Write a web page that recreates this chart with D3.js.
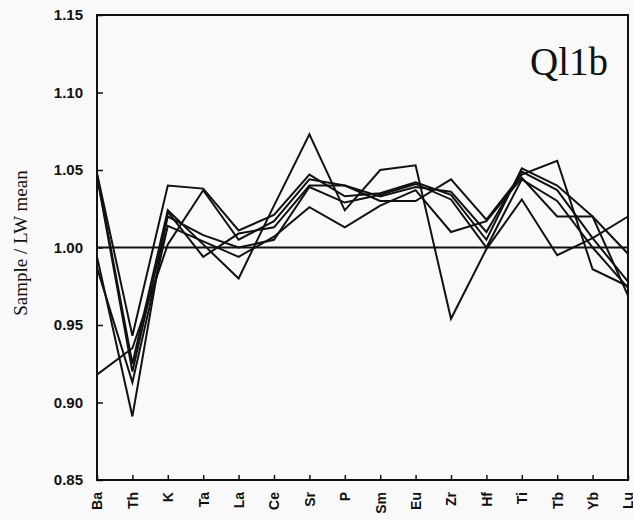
<!DOCTYPE html>
<html>
<head>
<meta charset="utf-8">
<script src="https://cdn.jsdelivr.net/npm/d3@7"></script>
<style>
  body{margin:0;background:#f9f9f9;}
  svg{display:block;}
</style>
</head>
<body>
<div id="svg-container"></div>
<script>

let elements = ["Ba","Th","K","Ta","La","Ce","Sr","P","Sm","Eu","Zr","Hf","Ti","Tb","Yb","Lu"];

//one array per sample
let sample1 = [1.048,0.943,1.040,1.038,1.011,1.021,1.047,1.033,1.035,1.042,1.034,1.005,1.051,1.040,1.020,0.996];
let sample2 = [0.918,0.935,1.002,1.037,1.005,1.017,1.044,1.040,1.033,1.039,1.036,1.010,1.049,1.037,1.006,0.978];
let sample3 = [1.047,0.925,1.024,1.002,0.980,1.027,1.073,1.024,1.050,1.053,0.954,0.999,1.031,0.995,1.006,1.020];
let sample4 = [0.994,0.891,1.023,0.994,1.009,1.013,1.040,1.040,1.030,1.030,1.044,1.018,1.047,1.056,0.986,0.975];
let sample5 = [0.987,0.913,1.014,1.004,0.994,1.007,1.026,1.013,1.027,1.037,1.010,1.017,1.045,1.020,1.020,0.969];
let sample6 = [1.046,0.920,1.020,1.008,1.000,1.005,1.039,1.029,1.034,1.041,1.031,1.000,1.044,1.030,1.000,0.974];

let yTicks = [0.85,0.90,0.95,1.00,1.05,1.10,1.15];
let refValue = 1.00;
let panelLabel = "Ql1b";

let samples = [sample1,sample2,sample3,sample4,sample5,sample6];

let dims = {w:633, h:520};
let box = {left:97, right:628, top:15, bottom:480};

let svg = d3.select("#svg-container").append("svg:svg")
  .attr("width", dims.w).attr("height", dims.h);

let x = d3.scalePoint().domain(elements).range([box.left, box.right]);
let y = d3.scaleLinear().domain([0.85,1.15]).range([box.bottom, box.top]);

// frame
svg.append("rect")
  .attr("x", box.left).attr("y", box.top)
  .attr("width", box.right-box.left).attr("height", box.bottom-box.top)
  .attr("fill","none").attr("stroke","#111").attr("stroke-width",2);

// axes with ticks pointing into the plot
let yAxis = svg.append("g")
  .attr("transform",`translate(${box.left},0)`)
  .call(d3.axisLeft(y).tickValues(yTicks).tickSizeInner(-6).tickSizeOuter(0).tickPadding(14).tickFormat(d3.format(".2f")));
yAxis.select(".domain").remove();
yAxis.selectAll("line").attr("stroke","#111").attr("stroke-width",1.5);
yAxis.selectAll("text")
  .attr("font-family","'Liberation Sans', Arial, sans-serif")
  .attr("font-weight","bold").attr("font-size",15).attr("fill","#111");

let xAxis = svg.append("g")
  .attr("transform",`translate(0,${box.bottom})`)
  .call(d3.axisBottom(x).tickSizeInner(-5).tickSizeOuter(0).tickPadding(0));
xAxis.select(".domain").remove();
xAxis.selectAll("line").attr("stroke","#111").attr("stroke-width",1.5);
xAxis.selectAll("text")
  .attr("font-family","'Liberation Sans', Arial, sans-serif")
  .attr("font-weight","bold").attr("font-size",14).attr("fill","#111")
  .attr("text-anchor","end")
  .attr("transform","translate(0,12) rotate(-90)")
  .attr("x",0).attr("y",0).attr("dy","0.35em");

// reference line at 1.00
svg.append("line")
  .attr("x1", box.left).attr("x2", box.right)
  .attr("y1", y(refValue)).attr("y2", y(refValue))
  .attr("stroke","#111").attr("stroke-width",1.8);

let line = d3.line()
  .x((d,i)=>x(elements[i]))
  .y(d=>y(d));

svg.append("g").selectAll("path").data(samples).enter()
  .append("path")
  .attr("d", d=>line(d))
  .attr("fill","none")
  .attr("stroke","#111")
  .attr("stroke-width",2)
  .attr("stroke-linejoin","miter");

// y title
svg.append("text")
  .attr("transform","translate(20,243) rotate(-90)")
  .attr("dy","0.35em")
  .attr("text-anchor","middle")
  .attr("font-family","'Liberation Serif', 'Times New Roman', serif")
  .attr("font-size",19).attr("fill","#111")
  .text("Sample / LW mean");

svg.append("text")
  .attr("x",608).attr("y",75)
  .attr("text-anchor","end")
  .attr("font-family","'Liberation Serif', 'Times New Roman', serif")
  .attr("font-size",39).attr("fill","#111")
  .text(panelLabel);

</script>
</body>
</html>
